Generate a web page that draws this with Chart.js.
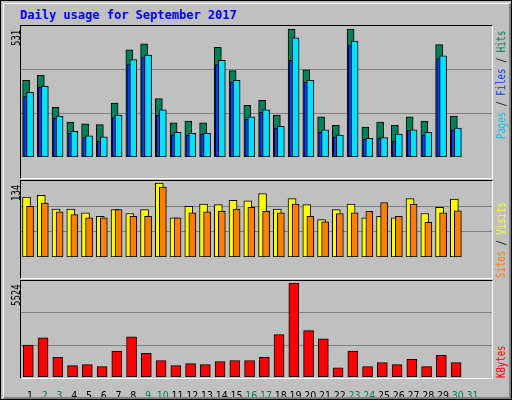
<!DOCTYPE html>
<html>
<head>
<meta charset="utf-8">
<script src="https://cdn.jsdelivr.net/npm/chart.js@4"></script>
<style>
  body { margin: 0; background: #fff; }
  #frame { position: absolute; left: 0; top: 0; width: 510px; height: 398px; background: #c0c0c0;
           border: 1px solid #000; font-family: 'DejaVu Sans Mono', monospace; }
  #frame:after { content: ''; position: absolute; left: 2px; top: 2px; right: 0; bottom: 0;
           border-right: 2px solid #808080; border-bottom: 2px solid #808080; border-top: 1px solid #fff; border-left: 1px solid #fff; pointer-events: none; }
  .title { position: absolute; left: 19px; top: 7px; color: #0000ff; font-weight: bold; font-size: 12px; }
  .panel { position: absolute; left: 19px; width: 471px; border-top: 1px solid #000; border-left: 1px solid #000;
           border-right: 1px solid #fff; border-bottom: 1px solid #fff; }
  .panel canvas { position: absolute; left: 0; top: 0; }
  .rot { position: absolute; transform: rotate(-90deg) scaleX(0.72); transform-origin: left top; white-space: nowrap;
         font-size: 12.5px; line-height: 12px; }
</style>
</head>
<body>
<div id="frame">
  <div class="title">Daily usage for September 2017</div>
  <div class="panel" style="top:24px;height:152px"><canvas id="c1"></canvas></div>
  <div class="panel" style="top:179px;height:97px"><canvas id="c2"></canvas></div>
  <div class="panel" style="top:279px;height:97px"></div>
  <div style="position:absolute;left:20px;top:280px;width:471px;height:117px"><canvas id="c3"></canvas></div>
  <div class="rot" style="left:9px;top:45px;">531</div>
  <div class="rot" style="left:9px;top:200px;">134</div>
  <div class="rot" style="left:9px;top:305px;">5524</div>
  <div class="rot" style="left:494px;top:138px;"><span style="color:#00c8e8">Pages</span> / <span style="color:#0040ff">Files</span> / <span style="color:#00805c">Hits</span></div>
  <div class="rot" style="left:494px;top:277px;"><span style="color:#ff8000">Sites</span> / <span style="color:#ffff00">Visits</span></div>
  <div class="rot" style="left:494px;top:377px;"><span style="color:#ff0000">KBytes</span></div>
</div>
<script>
const DAYS = Array.from({ length: 30 }, (_, i) => i + 1);
const LABEL_DAYS = Array.from({ length: 31 }, (_, i) => i + 1);
const WEEKEND = [2, 3, 9, 10, 16, 17, 23, 24, 30, 31];

const HITS   = [318,340,206,145,138,134,224,444,469,242,142,149,142,455,358,214,235,174,530,361,167,131,530,124,145,131,167,149,466,170];
const FILES  = [268,293,170,106,88,84,174,404,422,196,102,98,98,401,318,167,196,127,494,318,113,91,480,77,80,95,113,102,419,120];
const PAGES  = [250,289,160,98,80,66,163,383,412,174,91,91,95,383,311,156,185,120,401,311,102,84,462,73,77,66,109,91,408,113];
const SITES  = [109,112,87,87,80,74,86,79,86,134,71,92,96,95,103,102,115,87,106,95,68,86,96,71,74,71,106,79,90,105];
const VISITS = [92,98,82,77,71,71,86,74,74,127,71,80,82,83,87,90,83,80,96,74,64,79,80,83,99,74,96,63,80,84];
const KBYTES = [1881,2306,1153,668,728,607,1517,2367,1396,971,668,789,728,910,971,971,1153,2488,5524,2731,2246,546,1517,607,850,728,1032,607,1275,850];

const GRIDC = '#808080';
const X_MIN = 0.9, X_MAX = 31.8;

// lower order = drawn on top
function series(vals, shift, color, thick, order) {
  return {
    data: DAYS.map((d, i) => ({ x: d + shift, y: vals[i] })),
    backgroundColor: color, borderColor: '#000', borderWidth: 1,
    barThickness: thick, borderSkipped: false, grouped: false, order,
  };
}

function yAxis(max) {
  return {
    min: 0, max, display: true,
    border: { display: false },
    ticks: { display: false, padding: 0 },
    grid: { color: GRIDC, lineWidth: 1, drawTicks: false },
    afterBuildTicks: s => { s.ticks = [{ value: max / 3 }, { value: 2 * max / 3 }]; },
    afterFit: s => { s.width = 0; },
  };
}

function makeChart(id, w, h, datasets, ymax, showDays) {
  const cv = document.getElementById(id);
  cv.width = w; cv.height = h;
  cv.style.width = w + 'px'; cv.style.height = h + 'px';
  return new Chart(cv, {
    type: 'bar',
    data: { datasets },
    options: {
      responsive: false, animation: false,
      layout: { padding: 0 },
      plugins: { legend: { display: false }, tooltip: { enabled: false } },
      scales: {
        x: {
          type: 'linear', min: X_MIN, max: X_MAX, display: showDays,
          grid: { display: false }, border: { display: false },
          afterBuildTicks: s => { s.ticks = LABEL_DAYS.map(v => ({ value: v })); },
          afterFit: s => { s.height = 21; },
          ticks: {
            autoSkip: false, maxRotation: 0, padding: 5,
            font: { family: "'DejaVu Sans Condensed', 'DejaVu Sans', sans-serif", size: 10.5 },
            color: c => WEEKEND.includes(c.tick.value) ? '#00805c' : '#000',
            callback: v => String(v),
          },
        },
        y: yAxis(ymax),
      },
    },
  });
}

makeChart('c1', 471, 152, [
  series(HITS, -0.27, '#00805c', 7, 3),
  series(PAGES, -0.3, '#0040ff', 4, 2),
  series(FILES, 0, '#00e0ff', 7, 1),
], 543, false);

makeChart('c2', 471, 97, [
  series(SITES, -0.24, '#ffff00', 8, 2),
  series(VISITS, 0, '#ff8000', 7, 1),
], 138, false);

makeChart('c3', 471, 117, [
  series(KBYTES, -0.12, '#ff0000', 10, 1),
], 5645, true);
</script>
</body>
</html>
